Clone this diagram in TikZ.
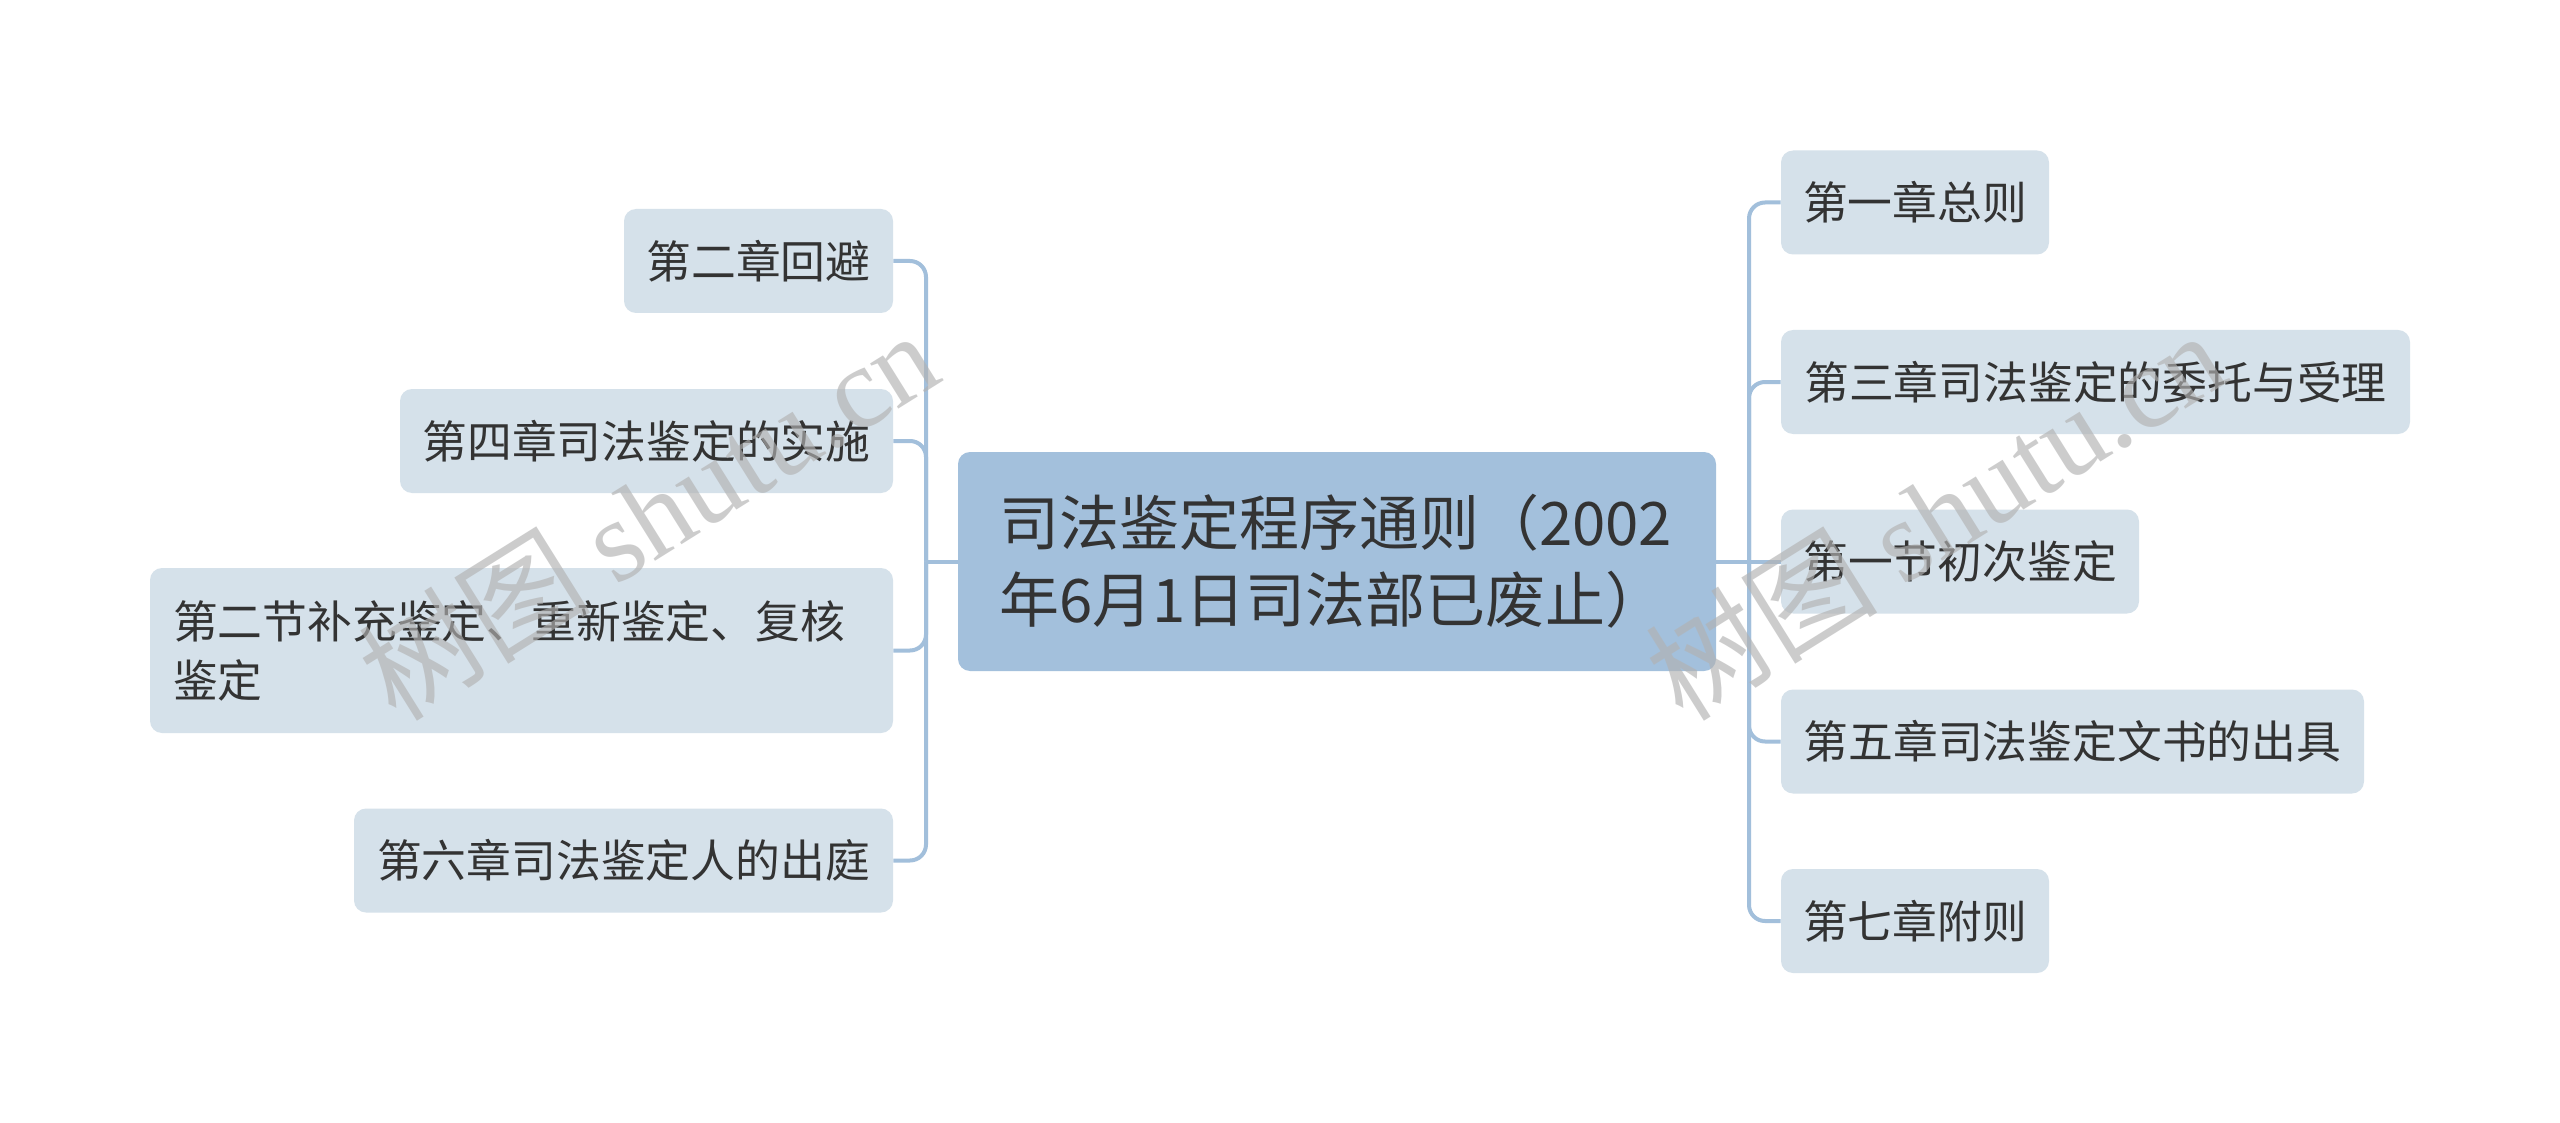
\documentclass[tikz,border=0pt]{standalone}
\usepackage{fontspec}
\newfontfamily\cjk{Noto Sans CJK SC}
\newfontfamily\wmlat{Liberation Serif}
\definecolor{leafc}{HTML}{D5E1EA}
\definecolor{rootc}{HTML}{A3C0DC}
\definecolor{linec}{HTML}{A2BFDB}
\definecolor{txt}{HTML}{333333}
\tikzset{
  leaf/.style={fill=leafc, rounded corners=6pt, inner sep=0pt, minimum height=52pt,
    font=\cjk\fontsize{22.4}{29.5}\selectfont, text=txt},
  root/.style={fill=rootc, rounded corners=6pt, inner xsep=20.5pt, inner ysep=0pt,
    minimum width=379pt, minimum height=109.5pt, text width=338pt, align=left,
    font=\cjk\fontsize{30}{38.5}\selectfont, text=txt},
  conn/.style={draw=linec, line width=2pt, rounded corners=8pt},
  wm/.style={text=black!30, opacity=0.65, rotate=32, inner sep=0pt}
}
\begin{document}
\begin{tikzpicture}[x=0.5pt,y=-0.5pt]
\useasboundingbox (0,0) rectangle (2560,1123);
\fill[white] (0,0) rectangle (2560,1123);

\coordinate (lt) at (926,561.5);
\coordinate (rt) at (1749,561.5);

\node[root] (c) at (1337,561.5) {司法鉴定程序通则（2002\\年6月1日司法部已废止）};

\node[leaf, minimum width=134.5pt] (l1) at (758.5,261) {第二章回避};
\node[leaf, minimum width=246.5pt] (l2) at (646.5,441) {第四章司法鉴定的实施};
\node[leaf, minimum width=371.5pt, minimum height=82.5pt, inner xsep=11.5pt, text width=348.5pt, align=left] (l3) at (521.5,650.5) {第二节补充鉴定、重新鉴定、复核\\鉴定};
\node[leaf, minimum width=269.5pt] (l4) at (623.5,860.5) {第六章司法鉴定人的出庭};

\node[leaf, minimum width=134pt] (r1) at (1915,202.5) {第一章总则};
\node[leaf, minimum width=314.5pt] (r2) at (2095.5,382) {第三章司法鉴定的委托与受理};
\node[leaf, minimum width=179pt] (r3) at (1960,561.5) {第一节初次鉴定};
\node[leaf, minimum width=291.5pt] (r4) at (2072.5,741.5) {第五章司法鉴定文书的出具};
\node[leaf, minimum width=134pt] (r5) at (1915,921) {第七章附则};

\draw[conn] (c.west) -- (lt);
\draw[conn] (c.east) -- (rt);
\foreach \n in {l1,l2,l3,l4} {
  \draw[conn] (\n.east) -- (lt |- \n.east) -- (lt);
}
\foreach \n in {r1,r2,r4,r5} {
  \draw[conn] (\n.west) -- (rt |- \n.west) -- (rt);
}
\draw[conn] (rt) -- (r3.west);

% watermarks
\node[wm] (wm1) at (648,514) {\cjk\fontsize{58}{58}\selectfont 树图 \wmlat shutu.cn};
\node[wm] (wm2) at (1935,514) {\cjk\fontsize{58}{58}\selectfont 树图 \wmlat shutu.cn};
\end{tikzpicture}
\end{document}
